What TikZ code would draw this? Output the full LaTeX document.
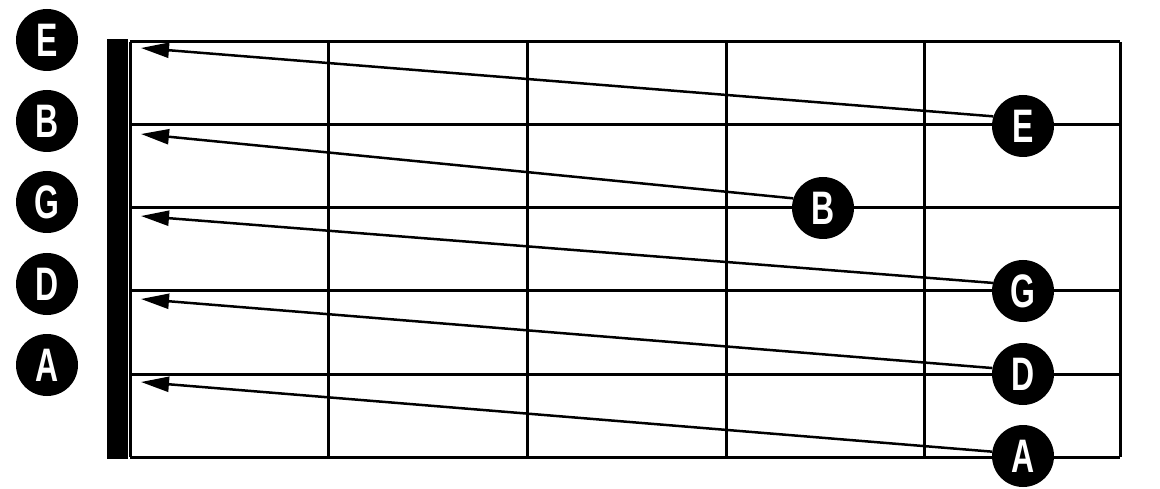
\documentclass[tikz,border=0pt]{standalone}
\usepackage{fontspec}
\setmainfont{Liberation Sans}
\newfontfamily\labfont[FakeStretch=0.68]{Liberation Sans}
\usetikzlibrary{arrows.meta}
\begin{document}
\begin{tikzpicture}[x=1pt,y=-1pt,
  gridline/.style={line width=3pt},
  nutbar/.style={fill=black},
  dot/.style={circle, fill=black, minimum size=62pt, inner sep=0pt, text=white,
    font=\labfont\bfseries\fontsize{47}{47}\selectfont},
  pointer/.style={line width=2.5pt, -{Triangle[length=28pt,width=15pt]}}]
\useasboundingbox (0,0) rectangle (1160,489);
% nut
\fill[nutbar] (107,39) rectangle (128,459);
% grid
\foreach \y in {42,125,208,291,374,457} \draw[gridline] (130,\y) -- (1120,\y);
\foreach \x in {130,328,527,726,924,1120} \draw[gridline] (\x,42) -- (\x,457);
% arrow tips
\coordinate (tE) at (141,48);
\coordinate (tB) at (141,134);
\coordinate (tG) at (141,216);
\coordinate (tD) at (141,299);
\coordinate (tA) at (141,382);
% right dots
\node[dot] (rE) at (1023,126) {E};
\node[dot] (rB) at (823,208) {B};
\node[dot] (rG) at (1023,291) {G};
\node[dot] (rD) at (1023,374) {D};
\node[dot] (rA) at (1023,456) {A};
% arrows
\draw[pointer] (rE.162) -- (tE);
\draw[pointer] (rB.162) -- (tB);
\draw[pointer] (rG.165) -- (tG);
\draw[pointer] (rD.169) -- (tD);
\draw[pointer] (rA.172) -- (tA);
% left dots
\node[dot] (lE) at (47,40) {E};
\node[dot] (lB) at (47,121) {B};
\node[dot] (lG) at (47,202) {G};
\node[dot] (lD) at (47,284) {D};
\node[dot] (lA) at (47,365) {A};
\end{tikzpicture}
\end{document}
